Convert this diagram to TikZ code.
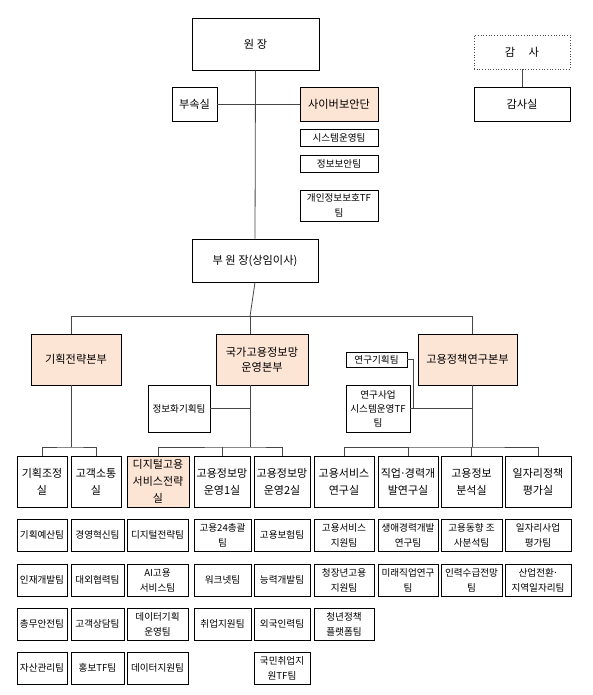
\documentclass[tikz,border=0pt]{standalone}
\usepackage{fontspec}
\setmainfont{Noto Sans CJK KR}
\definecolor{peach}{RGB}{253,229,214}
\definecolor{linec}{RGB}{70,70,70}
\newcommand\obox[7]{\node[#2, minimum width={#5-#3}, minimum height={#6-#4}] (#1) at ({(#3+#5)/2},{(#4+#6)/2}) {#7};}
\newcommand\mdot{\makebox[0.35em][c]{·}}
\begin{document}
\begin{tikzpicture}[x=1pt,y=-1pt,
  box/.style={draw=black, line width=0.7pt, fill=white, inner sep=0pt, align=center, font=\fontsize{11.2}{15}\selectfont},
  pbox/.style={box, fill=peach},
  sil/.style={box, font=\fontsize{11}{17}\selectfont},
  psil/.style={sil, fill=peach},
  team/.style={box, font=\fontsize{9.6}{15}\selectfont},
  steam/.style={box, font=\fontsize{9.6}{14}\selectfont},
  dbox/.style={box, draw=black!70, dotted, line width=0.9pt},
  conn/.style={draw=linec, line width=0.8pt}]
\useasboundingbox (0,0) rectangle (593,695);
% top
\obox{wj}{box}{192}{18}{319}{70}{원 장}
\obox{bs}{box}{172}{87}{217}{121}{부속실}
\obox{cy}{pbox}{300}{87}{378}{121}{사이버보안단}
\obox{sy}{team}{300}{129}{378}{146}{시스템운영팀}
\obox{jo}{team}{300}{155}{378}{172}{정보보안팀}
\obox{gi}{team}{300}{190}{378}{221}{개인정보보호TF\\팀}
\obox{gs}{dbox}{474}{35}{570}{69}{감\hspace{1.2em}사}
\obox{gss}{box}{474}{87}{570}{121}{감사실}
\obox{bw}{box}{192}{239}{318}{282}{부 원 장(상임이사)}
% divisions
\obox{gh}{pbox}{31}{334}{121}{385}{기획전략본부}
\obox{gk}{pbox}{216}{334}{308}{385}{국가고용정보망\\운영본부}
\obox{gy}{pbox}{418}{334}{517}{385}{고용정책연구본부}
\obox{jb}{team}{148}{385}{210}{432}{정보화기획팀}
\obox{rk}{team}{346}{352}{407}{367}{연구기획팀}
\obox{rs}{steam}{346}{385}{410}{432}{연구사업\\시스템운영TF\\팀}
% offices
\obox{c1}{sil}{17}{456}{67}{507}{기획조정\\실}
\obox{c2}{sil}{71}{456}{121}{507}{고객소통\\실}
\obox{c3}{psil}{127}{456}{189}{507}{디지털고용\\서비스전략\\실}
\obox{c4}{sil}{194}{456}{250}{507}{고용정보망\\운영1실}
\obox{c5}{sil}{254}{456}{310}{507}{고용정보망\\운영2실}
\obox{c6}{sil}{314}{456}{374}{507}{고용서비스\\연구실}
\obox{c7}{sil}{378}{456}{438}{507}{직업\mdot 경력개\\발연구실}
\obox{c8}{sil}{441}{456}{502}{507}{고용정보\\분석실}
\obox{c9}{sil}{505}{456}{571}{507}{일자리정책\\평가실}
% teams row 1
\obox{t11}{team}{17}{519}{67}{551}{기획예산팀}
\obox{t12}{team}{71}{519}{124}{551}{경영혁신팀}
\obox{t13}{team}{127}{519}{188}{551}{디지털전략팀}
\obox{t14}{team}{194}{519}{251}{551}{고용24총괄\\팀}
\obox{t15}{team}{254}{519}{310}{551}{고용보험팀}
\obox{t16}{team}{314}{519}{374}{551}{고용서비스\\지원팀}
\obox{t17}{team}{378}{519}{438}{551}{생애경력개발\\연구팀}
\obox{t18}{team}{441}{519}{502}{551}{고용동향 조\\사분석팀}
\obox{t19}{team}{505}{519}{571}{551}{일자리사업\\평가팀}
% teams row 2
\obox{t21}{team}{17}{564}{67}{596}{인재개발팀}
\obox{t22}{team}{71}{564}{124}{596}{대외협력팀}
\obox{t23}{team}{127}{564}{188}{596}{AI고용\\서비스팀}
\obox{t24}{team}{194}{564}{251}{596}{워크넷팀}
\obox{t25}{team}{254}{564}{310}{596}{능력개발팀}
\obox{t26}{team}{314}{564}{374}{596}{청장년고용\\지원팀}
\obox{t27}{team}{378}{564}{438}{596}{미래직업연구\\팀}
\obox{t28}{team}{441}{564}{502}{596}{인력수급전망\\팀}
\obox{t29}{team}{505}{564}{571}{596}{산업전환\mdot\\지역일자리팀}
% teams row 3
\obox{t31}{team}{17}{608}{67}{640}{총무안전팀}
\obox{t32}{team}{71}{608}{124}{640}{고객상담팀}
\obox{t33}{team}{127}{608}{188}{640}{데이터기획\\운영팀}
\obox{t34}{team}{194}{608}{251}{640}{취업지원팀}
\obox{t35}{team}{254}{608}{310}{640}{외국인력팀}
\obox{t36}{team}{314}{608}{374}{640}{청년정책\\플랫폼팀}
% teams row 4
\obox{t41}{team}{17}{652}{67}{684}{자산관리팀}
\obox{t42}{team}{71}{652}{124}{684}{홍보TF팀}
\obox{t43}{team}{127}{652}{188}{684}{데이터지원팀}
\obox{t45}{team}{254}{652}{310}{684}{국민취업지\\원TF팀}
% junctions
\coordinate (hL) at (71,316.5);
\coordinate (hC) at (250,316.5);
\coordinate (hR) at (472,316.5);
\coordinate (jL) at (71,447);
\coordinate (jC) at (250,447);
\coordinate (jR) at (472,447);
% connectors
\draw[conn] (wj.south) -- (bw.north);
\draw[conn] (bs.east) -- (cy.west);
\draw[conn] (gs.south) -- (gss.north);
\draw[conn] (bw.south) -- (hC);
\draw[conn] (hL |- gh.north) |- (hR) -- (hR |- gy.north);
\draw[conn] (hC) -- (hC |- gk.north);
\draw[conn] (hL |- gh.south) -- (jL);
\draw[conn] (hC |- gk.south) -- (jC);
\draw[conn] (hR |- gy.south) -- (jR);
\draw[conn] (c1.north) |- (jL) -| (c2.north);
\draw[conn] (c3.north) |- (jC) -| (c5.north);
\draw[conn] (c4.north) -- (c4.north |- jC);
\draw[conn] (c6.north) |- (jR) -| (c9.north);
\draw[conn] (c7.north) -- (c7.north |- jR);
\draw[conn] (c8.north) -- (c8.north |- jR);
\draw[conn] (jb.east) -- (jb.east -| hC);
\draw[conn] (rk.east) -- ++(6,0) |- (rs.east -| hR);
\draw[conn] (rs.east) -- (rs.east -| hR);
\end{tikzpicture}
\end{document}
